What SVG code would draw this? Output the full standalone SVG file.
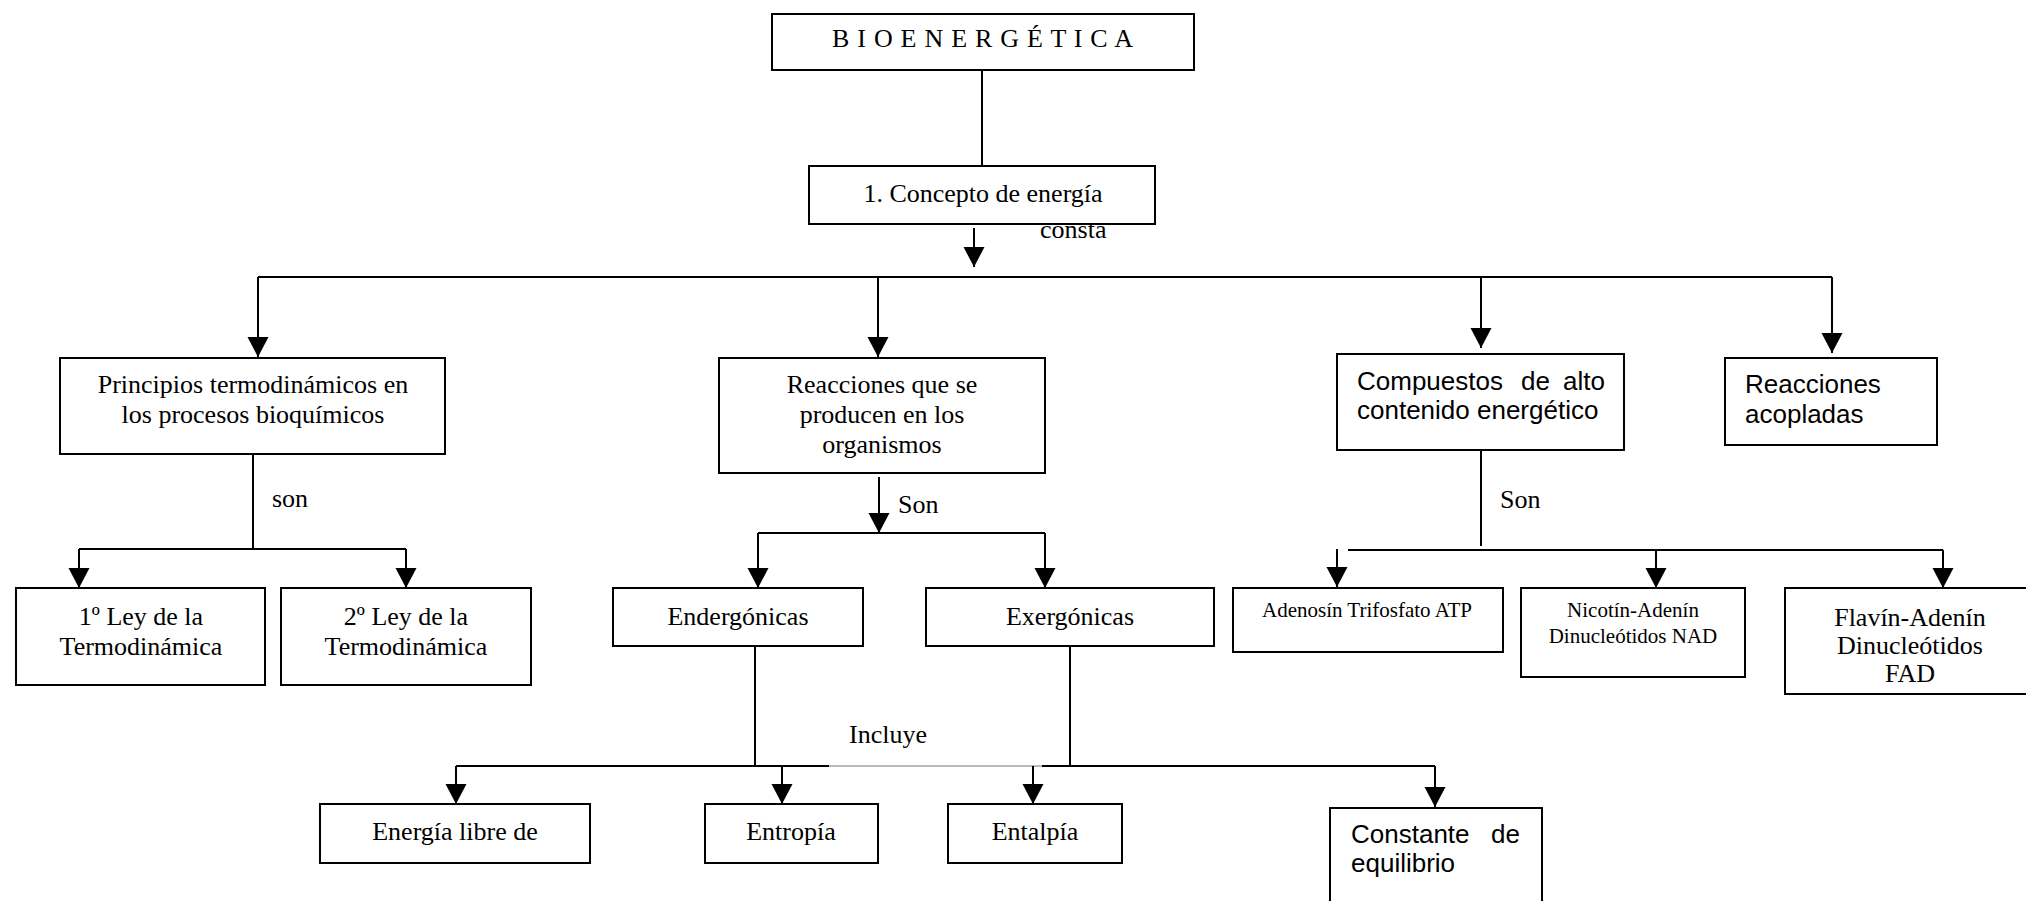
<svg xmlns="http://www.w3.org/2000/svg" width="2026" height="901" viewBox="0 0 2026 901">
<style>
.box{fill:#fff;stroke:#000;stroke-width:2}
.t{font-family:"Liberation Serif","Times New Roman",serif;font-size:26px;fill:#000;text-anchor:middle}
.ts{font-family:"Liberation Serif","Times New Roman",serif;font-size:21px;fill:#000;text-anchor:middle}
.s{font-family:"Liberation Sans",Arial,sans-serif;font-size:26px;fill:#000}
.lbl{font-family:"Liberation Serif","Times New Roman",serif;font-size:26px;fill:#000}
.ln{stroke:#000;stroke-width:2;fill:none}
.ar{stroke:#000;stroke-width:2;fill:none;marker-end:url(#ah)}
.thin{stroke:#777;stroke-width:1;fill:none}
</style>
<defs>
<marker id="ah" markerUnits="userSpaceOnUse" markerWidth="21" markerHeight="22" viewBox="0 -11 21 22" refX="20" refY="0" orient="auto">
<path d="M0,-10.5 L20,0 L0,10.5 Z" fill="#000"/>
</marker>
</defs>
<rect width="2026" height="901" fill="#fff"/>
<g id="connectors">
<line class="ln" x1="982" y1="70" x2="982" y2="166"/>
<line class="ar" x1="974" y1="228" x2="974" y2="267"/>
<line class="ln" x1="258" y1="277" x2="1832" y2="277"/>
<line class="ar" x1="258" y1="277" x2="258" y2="357"/>
<line class="ar" x1="878" y1="277" x2="878" y2="357"/>
<line class="ar" x1="1481" y1="276" x2="1481" y2="348"/>
<line class="ar" x1="1832" y1="277" x2="1832" y2="353"/>
<line class="ln" x1="253" y1="454" x2="253" y2="549"/>
<line class="ln" x1="79" y1="549" x2="406" y2="549"/>
<line class="ar" x1="79" y1="549" x2="79" y2="588"/>
<line class="ar" x1="406" y1="549" x2="406" y2="588"/>
<line class="ar" x1="879" y1="477" x2="879" y2="533"/>
<line class="ln" x1="758" y1="533" x2="1045" y2="533"/>
<line class="ar" x1="758" y1="533" x2="758" y2="588"/>
<line class="ar" x1="1045" y1="533" x2="1045" y2="588"/>
<line class="ln" x1="1481" y1="450" x2="1481" y2="546"/>
<line class="ln" x1="1348" y1="550" x2="1943" y2="550"/>
<line class="ar" x1="1337" y1="549" x2="1337" y2="587"/>
<line class="ar" x1="1656" y1="550" x2="1656" y2="588"/>
<line class="ar" x1="1943" y1="550" x2="1943" y2="588"/>
<line class="ln" x1="755" y1="646" x2="755" y2="767"/>
<line class="ln" x1="1070" y1="646" x2="1070" y2="767"/>
<line class="ln" x1="456" y1="766" x2="829" y2="766"/>
<line class="thin" x1="829" y1="766" x2="1042" y2="766"/>
<line class="ln" x1="1042" y1="766" x2="1435" y2="766"/>
<line class="ar" x1="456" y1="766" x2="456" y2="804"/>
<line class="ar" x1="782" y1="766" x2="782" y2="804"/>
<line class="ar" x1="1033" y1="766" x2="1033" y2="804"/>
<line class="ar" x1="1435" y1="766" x2="1435" y2="807"/>
<text class="lbl" x="1040" y="238">consta</text>
<text class="lbl" x="272" y="507">son</text>
<text class="lbl" x="898" y="513">Son</text>
<text class="lbl" x="1500" y="508">Son</text>
<text class="lbl" x="849" y="743">Incluye</text>
</g>
<g id="n-bio">
<rect class="box" x="772" y="14" width="422" height="56"/>
<text class="t" x="982.5" y="47" font-size="24" textLength="301" lengthAdjust="spacing">B I O E N E R G É T I C A</text>
</g>
<g id="n-concepto">
<rect class="box" x="809" y="166" width="346" height="58"/>
<text class="t" x="983" y="202">1. Concepto de energía</text>
</g>
<g id="n-principios">
<rect class="box" x="60" y="358" width="385" height="96"/>
<text class="t" x="253" y="393">Principios termodinámicos en</text>
<text class="t" x="253" y="423">los procesos bioquímicos</text>
</g>
<g id="n-reacciones">
<rect class="box" x="719" y="358" width="326" height="115"/>
<text class="t" x="882" y="393">Reacciones que se</text>
<text class="t" x="882" y="423">producen en los</text>
<text class="t" x="882" y="453">organismos</text>
</g>
<g id="n-compuestos">
<rect class="box" x="1337" y="354" width="287" height="96"/>
<text class="s" x="1357" y="390">Compuestos</text>
<text class="s" x="1521" y="390">de</text>
<text class="s" x="1605" y="390" text-anchor="end">alto</text>
<text class="s" x="1357" y="419">contenido energético</text>
</g>
<g id="n-acopladas">
<rect class="box" x="1725" y="358" width="212" height="87"/>
<text class="s" x="1745" y="393">Reacciones</text>
<text class="s" x="1745" y="423">acopladas</text>
</g>
<g id="n-ley1">
<rect class="box" x="16" y="588" width="249" height="97"/>
<text class="t" x="141" y="625">1º Ley de la</text>
<text class="t" x="141" y="655">Termodinámica</text>
</g>
<g id="n-ley2">
<rect class="box" x="281" y="588" width="250" height="97"/>
<text class="t" x="406" y="625">2º Ley de la</text>
<text class="t" x="406" y="655">Termodinámica</text>
</g>
<g id="n-endergonicas">
<rect class="box" x="613" y="588" width="250" height="58"/>
<text class="t" x="738" y="625">Endergónicas</text>
</g>
<g id="n-exergonicas">
<rect class="box" x="926" y="588" width="288" height="58"/>
<text class="t" x="1070" y="625">Exergónicas</text>
</g>
<g id="n-atp">
<rect class="box" x="1233" y="588" width="270" height="64"/>
<text class="ts" x="1367" y="617">Adenosín Trifosfato ATP</text>
</g>
<g id="n-nad">
<rect class="box" x="1521" y="588" width="224" height="89"/>
<text class="ts" x="1633" y="617">Nicotín-Adenín</text>
<text class="ts" x="1633" y="643">Dinucleótidos NAD</text>
</g>
<g id="n-fad">
<rect class="box" x="1785" y="588" width="245" height="106"/>
<text class="t" x="1910" y="626">Flavín-Adenín</text>
<text class="t" x="1910" y="654">Dinucleótidos</text>
<text class="t" x="1910" y="682">FAD</text>
</g>
<g id="n-energia">
<rect class="box" x="320" y="804" width="270" height="59"/>
<text class="t" x="455" y="840">Energía libre de</text>
</g>
<g id="n-entropia">
<rect class="box" x="705" y="804" width="173" height="59"/>
<text class="t" x="791" y="840">Entropía</text>
</g>
<g id="n-entalpia">
<rect class="box" x="948" y="804" width="174" height="59"/>
<text class="t" x="1035" y="840">Entalpía</text>
</g>
<g id="n-constante">
<rect class="box" x="1330" y="808" width="212" height="102"/>
<text class="s" x="1351" y="843">Constante</text>
<text class="s" x="1520" y="843" text-anchor="end">de</text>
<text class="s" x="1351" y="872">equilibrio</text>
</g>
</svg>
